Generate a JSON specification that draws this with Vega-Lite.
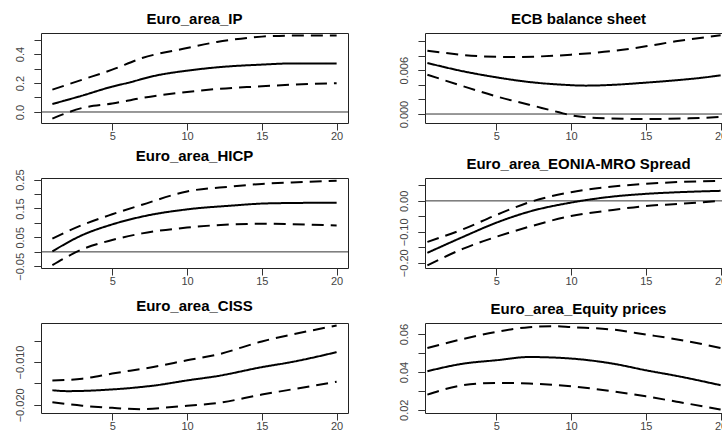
{
"$schema": "https://vega.github.io/schema/vega-lite/v6.json",
"background": "white",
"padding": {"left": 0, "top": 11, "right": 0, "bottom": 0},
"datasets": {
"irf": [
{"p":"IP","s":"est","h":1,"v":0.055},{"p":"IP","s":"est","h":3,"v":0.113},{"p":"IP","s":"est","h":5,"v":0.175},{"p":"IP","s":"est","h":6,"v":0.2},{"p":"IP","s":"est","h":8,"v":0.253},{"p":"IP","s":"est","h":10,"v":0.285},{"p":"IP","s":"est","h":12,"v":0.308},{"p":"IP","s":"est","h":15,"v":0.327},{"p":"IP","s":"est","h":17,"v":0.335},{"p":"IP","s":"est","h":20,"v":0.334},
{"p":"IP","s":"hi","h":1,"v":0.154},{"p":"IP","s":"hi","h":3,"v":0.223},{"p":"IP","s":"hi","h":5,"v":0.292},{"p":"IP","s":"hi","h":7,"v":0.372},{"p":"IP","s":"hi","h":10,"v":0.441},{"p":"IP","s":"hi","h":12,"v":0.483},{"p":"IP","s":"hi","h":15,"v":0.52},{"p":"IP","s":"hi","h":17,"v":0.527},{"p":"IP","s":"hi","h":20,"v":0.527},
{"p":"IP","s":"lo","h":1,"v":-0.046},{"p":"IP","s":"lo","h":3,"v":0.028},{"p":"IP","s":"lo","h":5,"v":0.058},{"p":"IP","s":"lo","h":7,"v":0.097},{"p":"IP","s":"lo","h":10,"v":0.138},{"p":"IP","s":"lo","h":12,"v":0.159},{"p":"IP","s":"lo","h":15,"v":0.177},{"p":"IP","s":"lo","h":17,"v":0.189},{"p":"IP","s":"lo","h":20,"v":0.198},
{"p":"ECB","s":"est","h":0.4,"v":0.00699},{"p":"ECB","s":"est","h":2.8,"v":0.00585},{"p":"ECB","s":"est","h":5,"v":0.00503},{"p":"ECB","s":"est","h":7.2,"v":0.00439},{"p":"ECB","s":"est","h":9.4,"v":0.00402},{"p":"ECB","s":"est","h":11,"v":0.00389},{"p":"ECB","s":"est","h":13,"v":0.00402},{"p":"ECB","s":"est","h":15,"v":0.0043},{"p":"ECB","s":"est","h":17,"v":0.00462},{"p":"ECB","s":"est","h":19,"v":0.00503},{"p":"ECB","s":"est","h":20,"v":0.0053},
{"p":"ECB","s":"hi","h":0.4,"v":0.00868},{"p":"ECB","s":"hi","h":4.1,"v":0.0079},{"p":"ECB","s":"hi","h":6.1,"v":0.00781},{"p":"ECB","s":"hi","h":10,"v":0.00813},{"p":"ECB","s":"hi","h":13,"v":0.00868},{"p":"ECB","s":"hi","h":15,"v":0.00927},{"p":"ECB","s":"hi","h":17,"v":0.00996},{"p":"ECB","s":"hi","h":20,"v":0.01078},
{"p":"ECB","s":"lo","h":0.4,"v":0.00539},{"p":"ECB","s":"lo","h":2.8,"v":0.0038},{"p":"ECB","s":"lo","h":5,"v":0.00242},{"p":"ECB","s":"lo","h":7.2,"v":0.00128},{"p":"ECB","s":"lo","h":9.2,"v":0.00023},{"p":"ECB","s":"lo","h":10,"v":-0.00018},{"p":"ECB","s":"lo","h":11.7,"v":-0.00054},{"p":"ECB","s":"lo","h":15,"v":-0.00068},{"p":"ECB","s":"lo","h":17.9,"v":-0.00059},{"p":"ECB","s":"lo","h":20,"v":-0.00041},
{"p":"HICP","s":"est","h":1,"v":0.002},{"p":"HICP","s":"est","h":3,"v":0.058},{"p":"HICP","s":"est","h":5,"v":0.095},{"p":"HICP","s":"est","h":7,"v":0.122},{"p":"HICP","s":"est","h":10,"v":0.147},{"p":"HICP","s":"est","h":13,"v":0.16},{"p":"HICP","s":"est","h":15,"v":0.167},{"p":"HICP","s":"est","h":17,"v":0.169},{"p":"HICP","s":"est","h":20,"v":0.17},
{"p":"HICP","s":"hi","h":1,"v":0.046},{"p":"HICP","s":"hi","h":3,"v":0.093},{"p":"HICP","s":"hi","h":5,"v":0.13},{"p":"HICP","s":"hi","h":7,"v":0.163},{"p":"HICP","s":"hi","h":10,"v":0.209},{"p":"HICP","s":"hi","h":13,"v":0.226},{"p":"HICP","s":"hi","h":15,"v":0.235},{"p":"HICP","s":"hi","h":17,"v":0.24},{"p":"HICP","s":"hi","h":20,"v":0.246},
{"p":"HICP","s":"lo","h":1,"v":-0.046},{"p":"HICP","s":"lo","h":3,"v":0.009},{"p":"HICP","s":"lo","h":5,"v":0.041},{"p":"HICP","s":"lo","h":7,"v":0.064},{"p":"HICP","s":"lo","h":10,"v":0.084},{"p":"HICP","s":"lo","h":13,"v":0.095},{"p":"HICP","s":"lo","h":15,"v":0.097},{"p":"HICP","s":"lo","h":17,"v":0.096},{"p":"HICP","s":"lo","h":20,"v":0.091},
{"p":"EONIA","s":"est","h":0.4,"v":-0.168},{"p":"EONIA","s":"est","h":2.8,"v":-0.116},{"p":"EONIA","s":"est","h":5,"v":-0.0707},{"p":"EONIA","s":"est","h":7.2,"v":-0.0349},{"p":"EONIA","s":"est","h":10,"v":-0.0055},{"p":"EONIA","s":"est","h":12.8,"v":0.014},{"p":"EONIA","s":"est","h":15,"v":0.0227},{"p":"EONIA","s":"est","h":17.2,"v":0.0281},{"p":"EONIA","s":"est","h":20,"v":0.0325},
{"p":"EONIA","s":"hi","h":0.4,"v":-0.1326},{"p":"EONIA","s":"hi","h":2.8,"v":-0.0913},{"p":"EONIA","s":"hi","h":5,"v":-0.0457},{"p":"EONIA","s":"hi","h":7.2,"v":-0.0045},{"p":"EONIA","s":"hi","h":10,"v":0.0281},{"p":"EONIA","s":"hi","h":12.8,"v":0.0466},{"p":"EONIA","s":"hi","h":15,"v":0.0553},{"p":"EONIA","s":"hi","h":20,"v":0.065},
{"p":"EONIA","s":"lo","h":0.4,"v":-0.2086},{"p":"EONIA","s":"lo","h":2.8,"v":-0.1543},{"p":"EONIA","s":"lo","h":5,"v":-0.1163},{"p":"EONIA","s":"lo","h":7.2,"v":-0.0837},{"p":"EONIA","s":"lo","h":10,"v":-0.049},{"p":"EONIA","s":"lo","h":12.8,"v":-0.0294},{"p":"EONIA","s":"lo","h":15,"v":-0.0164},{"p":"EONIA","s":"lo","h":17.2,"v":-0.0099},{"p":"EONIA","s":"lo","h":20,"v":0.0},
{"p":"CISS","s":"est","h":1,"v":-0.0166},{"p":"CISS","s":"est","h":2,"v":-0.0168},{"p":"CISS","s":"est","h":5,"v":-0.0164},{"p":"CISS","s":"est","h":8,"v":-0.0154},{"p":"CISS","s":"est","h":10,"v":-0.0143},{"p":"CISS","s":"est","h":12,"v":-0.0133},{"p":"CISS","s":"est","h":15,"v":-0.0112},{"p":"CISS","s":"est","h":17,"v":-0.01},{"p":"CISS","s":"est","h":20,"v":-0.0077},
{"p":"CISS","s":"hi","h":1,"v":-0.0143},{"p":"CISS","s":"hi","h":3,"v":-0.0139},{"p":"CISS","s":"hi","h":5,"v":-0.0127},{"p":"CISS","s":"hi","h":8,"v":-0.011},{"p":"CISS","s":"hi","h":10,"v":-0.0096},{"p":"CISS","s":"hi","h":12,"v":-0.0083},{"p":"CISS","s":"hi","h":15,"v":-0.0052},{"p":"CISS","s":"hi","h":17,"v":-0.0036},{"p":"CISS","s":"hi","h":20,"v":-0.0015},
{"p":"CISS","s":"lo","h":1,"v":-0.0194},{"p":"CISS","s":"lo","h":3,"v":-0.0202},{"p":"CISS","s":"lo","h":5,"v":-0.0207},{"p":"CISS","s":"lo","h":7,"v":-0.021},{"p":"CISS","s":"lo","h":9,"v":-0.0205},{"p":"CISS","s":"lo","h":10,"v":-0.0202},{"p":"CISS","s":"lo","h":12,"v":-0.0196},{"p":"CISS","s":"lo","h":15,"v":-0.0176},{"p":"CISS","s":"lo","h":17,"v":-0.0164},{"p":"CISS","s":"lo","h":20,"v":-0.0146},
{"p":"EQ","s":"est","h":0.4,"v":0.0404},{"p":"EQ","s":"est","h":2.8,"v":0.0444},{"p":"EQ","s":"est","h":5,"v":0.0462},{"p":"EQ","s":"est","h":7.2,"v":0.0479},{"p":"EQ","s":"est","h":10,"v":0.0471},{"p":"EQ","s":"est","h":12.8,"v":0.0444},{"p":"EQ","s":"est","h":15,"v":0.0409},{"p":"EQ","s":"est","h":17.2,"v":0.0377},{"p":"EQ","s":"est","h":20,"v":0.033},
{"p":"EQ","s":"hi","h":0.4,"v":0.0527},{"p":"EQ","s":"hi","h":2.8,"v":0.0575},{"p":"EQ","s":"hi","h":5,"v":0.0612},{"p":"EQ","s":"hi","h":7.2,"v":0.0637},{"p":"EQ","s":"hi","h":8.9,"v":0.0642},{"p":"EQ","s":"hi","h":10,"v":0.0637},{"p":"EQ","s":"hi","h":12.8,"v":0.0624},{"p":"EQ","s":"hi","h":15,"v":0.0598},{"p":"EQ","s":"hi","h":17.2,"v":0.0571},{"p":"EQ","s":"hi","h":20,"v":0.0527},
{"p":"EQ","s":"lo","h":0.4,"v":0.028},{"p":"EQ","s":"lo","h":2.8,"v":0.033},{"p":"EQ","s":"lo","h":5,"v":0.0342},{"p":"EQ","s":"lo","h":7.2,"v":0.0339},{"p":"EQ","s":"lo","h":10,"v":0.0324},{"p":"EQ","s":"lo","h":12.8,"v":0.0298},{"p":"EQ","s":"lo","h":15,"v":0.0271},{"p":"EQ","s":"lo","h":17.2,"v":0.0241},{"p":"EQ","s":"lo","h":20,"v":0.0201}
]
},
"bounds": "flush",
"columns": 2,
"spacing": {"row": 55, "column": 77},
"concat": [
{"width": 307, "height": 90, "title": {"text": "Euro_area_IP", "offset": 6},
 "resolve": {"axis": {"y": "independent"}},
 "layer": [
  {"data": {"values": [{"z": 0}]}, "mark": {"type": "rule", "color": "#333", "strokeWidth": 1, "clip": true},
   "encoding": {"y": {"datum": 0, "type": "quantitative", "scale": {"domain": [-0.076, 0.545], "nice": false, "zero": false}, "axis": {"orient": "left", "values": [0, 0.2, 0.4], "format": ".1f", "title": null}}}},
  {"data": {"name": "irf"}, "transform": [{"filter": "datum.p == 'IP'"}],
   "mark": {"type": "line", "color": "black", "strokeWidth": 2, "clip": true, "interpolate": "monotone"},
   "encoding": {
    "x": {"field": "h", "type": "quantitative", "scale": {"domain": [0.24, 20.76], "nice": false, "zero": false}, "axis": {"values": [5, 10, 15, 20], "title": null}},
    "y": {"field": "v", "type": "quantitative", "scale": {"domain": [-0.076, 0.545], "nice": false, "zero": false}, "axis": {"orient": "left", "values": [0, 0.1, 0.2, 0.3, 0.4, 0.5], "labels": false, "title": null}},
    "detail": {"field": "s"},
    "strokeDash": {"field": "s", "type": "nominal", "scale": {"domain": ["est", "lo", "hi"], "range": [[1, 0], [12, 7], [12, 7]]}, "legend": null}
   }}
 ]},
{"width": 307, "height": 90, "title": {"text": "ECB balance sheet", "offset": 6},
 "resolve": {"axis": {"y": "independent"}},
 "layer": [
  {"data": {"values": [{"z": 0}]}, "mark": {"type": "rule", "color": "#333", "strokeWidth": 1, "clip": true},
   "encoding": {"y": {"datum": 0, "type": "quantitative", "scale": {"domain": [-0.00123, 0.0111], "nice": false, "zero": false}, "axis": {"orient": "left", "values": [0, 0.006], "format": ".3f", "title": null}}}},
  {"data": {"name": "irf"}, "transform": [{"filter": "datum.p == 'ECB'"}],
   "mark": {"type": "line", "color": "black", "strokeWidth": 2, "clip": true, "interpolate": "monotone"},
   "encoding": {
    "x": {"field": "h", "type": "quantitative", "scale": {"domain": [0.24, 20.76], "nice": false, "zero": false}, "axis": {"values": [5, 10, 15, 20], "title": null}},
    "y": {"field": "v", "type": "quantitative", "scale": {"domain": [-0.00123, 0.0111], "nice": false, "zero": false}, "axis": {"orient": "left", "values": [0, 0.002, 0.004, 0.006, 0.008, 0.01], "labels": false, "title": null}},
    "detail": {"field": "s"},
    "strokeDash": {"field": "s", "type": "nominal", "scale": {"domain": ["est", "lo", "hi"], "range": [[1, 0], [12, 7], [12, 7]]}, "legend": null}
   }}
 ]},
{"width": 307, "height": 90, "title": {"text": "Euro_area_HICP", "offset": 5},
 "resolve": {"axis": {"y": "independent"}},
 "layer": [
  {"data": {"values": [{"z": 0}]}, "mark": {"type": "rule", "color": "#333", "strokeWidth": 1, "clip": true},
   "encoding": {"y": {"datum": 0, "type": "quantitative", "scale": {"domain": [-0.0557, 0.2554], "nice": false, "zero": false}, "axis": {"orient": "left", "values": [-0.05, 0.05, 0.15, 0.25], "format": ".2f", "title": null}}}},
  {"data": {"name": "irf"}, "transform": [{"filter": "datum.p == 'HICP'"}],
   "mark": {"type": "line", "color": "black", "strokeWidth": 2, "clip": true, "interpolate": "monotone"},
   "encoding": {
    "x": {"field": "h", "type": "quantitative", "scale": {"domain": [0.24, 20.76], "nice": false, "zero": false}, "axis": {"values": [5, 10, 15, 20], "title": null}},
    "y": {"field": "v", "type": "quantitative", "scale": {"domain": [-0.0557, 0.2554], "nice": false, "zero": false}, "axis": {"orient": "left", "values": [-0.05, 0, 0.05, 0.1, 0.15, 0.2, 0.25], "labels": false, "title": null}},
    "detail": {"field": "s"},
    "strokeDash": {"field": "s", "type": "nominal", "scale": {"domain": ["est", "lo", "hi"], "range": [[1, 0], [12, 7], [12, 7]]}, "legend": null}
   }}
 ]},
{"width": 307, "height": 90, "title": {"text": "Euro_area_EONIA-MRO Spread", "offset": 6},
 "resolve": {"axis": {"y": "independent"}},
 "layer": [
  {"data": {"values": [{"z": 0}]}, "mark": {"type": "rule", "color": "#333", "strokeWidth": 1, "clip": true},
   "encoding": {"y": {"datum": 0, "type": "quantitative", "scale": {"domain": [-0.217, 0.074], "nice": false, "zero": false}, "axis": {"orient": "left", "values": [-0.2, -0.1, 0], "format": ".2f", "title": null}}}},
  {"data": {"name": "irf"}, "transform": [{"filter": "datum.p == 'EONIA'"}],
   "mark": {"type": "line", "color": "black", "strokeWidth": 2, "clip": true, "interpolate": "monotone"},
   "encoding": {
    "x": {"field": "h", "type": "quantitative", "scale": {"domain": [0.24, 20.76], "nice": false, "zero": false}, "axis": {"values": [5, 10, 15, 20], "title": null}},
    "y": {"field": "v", "type": "quantitative", "scale": {"domain": [-0.217, 0.074], "nice": false, "zero": false}, "axis": {"orient": "left", "values": [-0.2, -0.15, -0.1, -0.05, 0, 0.05], "labels": false, "title": null}},
    "detail": {"field": "s"},
    "strokeDash": {"field": "s", "type": "nominal", "scale": {"domain": ["est", "lo", "hi"], "range": [[1, 0], [12, 7], [12, 7]]}, "legend": null}
   }}
 ]},
{"width": 307, "height": 90, "title": {"text": "Euro_area_CISS", "offset": 9},
 "resolve": {"axis": {"y": "independent"}},
 "layer": [
  {"data": {"values": [{"z": 0}]}, "mark": {"type": "rule", "color": "#333", "strokeWidth": 1, "clip": true},
   "encoding": {"y": {"datum": 0, "type": "quantitative", "scale": {"domain": [-0.0219, -0.0009], "nice": false, "zero": false}, "axis": {"orient": "left", "values": [-0.02, -0.01], "format": ".3f", "title": null}}}},
  {"data": {"name": "irf"}, "transform": [{"filter": "datum.p == 'CISS'"}],
   "mark": {"type": "line", "color": "black", "strokeWidth": 2, "clip": true, "interpolate": "monotone"},
   "encoding": {
    "x": {"field": "h", "type": "quantitative", "scale": {"domain": [0.24, 20.76], "nice": false, "zero": false}, "axis": {"values": [5, 10, 15, 20], "title": null}},
    "y": {"field": "v", "type": "quantitative", "scale": {"domain": [-0.0219, -0.0009], "nice": false, "zero": false}, "axis": {"orient": "left", "values": [-0.02, -0.015, -0.01, -0.005], "labels": false, "title": null}},
    "detail": {"field": "s"},
    "strokeDash": {"field": "s", "type": "nominal", "scale": {"domain": ["est", "lo", "hi"], "range": [[1, 0], [12, 7], [12, 7]]}, "legend": null}
   }}
 ]},
{"width": 307, "height": 90, "title": {"text": "Euro_area_Equity prices", "offset": 6},
 "resolve": {"axis": {"y": "independent"}},
 "layer": [
  {"data": {"values": [{"z": 0}]}, "mark": {"type": "rule", "color": "#333", "strokeWidth": 1, "clip": true},
   "encoding": {"y": {"datum": 0, "type": "quantitative", "scale": {"domain": [0.0183, 0.0659], "nice": false, "zero": false}, "axis": {"orient": "left", "values": [0.02, 0.04, 0.06], "format": ".2f", "title": null}}}},
  {"data": {"name": "irf"}, "transform": [{"filter": "datum.p == 'EQ'"}],
   "mark": {"type": "line", "color": "black", "strokeWidth": 2, "clip": true, "interpolate": "monotone"},
   "encoding": {
    "x": {"field": "h", "type": "quantitative", "scale": {"domain": [0.24, 20.76], "nice": false, "zero": false}, "axis": {"values": [5, 10, 15, 20], "title": null}},
    "y": {"field": "v", "type": "quantitative", "scale": {"domain": [0.0183, 0.0659], "nice": false, "zero": false}, "axis": {"orient": "left", "values": [0.02, 0.03, 0.04, 0.05, 0.06], "labels": false, "title": null}},
    "detail": {"field": "s"},
    "strokeDash": {"field": "s", "type": "nominal", "scale": {"domain": ["est", "lo", "hi"], "range": [[1, 0], [12, 7], [12, 7]]}, "legend": null}
   }}
 ]}
],
"config": {
 "view": {"stroke": "#222", "strokeWidth": 1},
 "axis": {"domain": false, "grid": false, "tickColor": "#333", "tickSize": 7, "tickWidth": 1, "labelFont": "Liberation Sans", "labelFontSize": 11, "labelColor": "#444", "labelFlush": false, "labelOverlap": false},
 "axisX": {"labelPadding": 0, "minExtent": 24, "maxExtent": 24},
 "axisY": {"labelAngle": 270, "labelAlign": "center", "labelBaseline": "bottom", "labelPadding": 9, "minExtent": 40, "maxExtent": 40},
 "title": {"font": "Liberation Sans", "fontSize": 15, "fontWeight": "bold", "color": "#000", "anchor": "middle"}
}
}
